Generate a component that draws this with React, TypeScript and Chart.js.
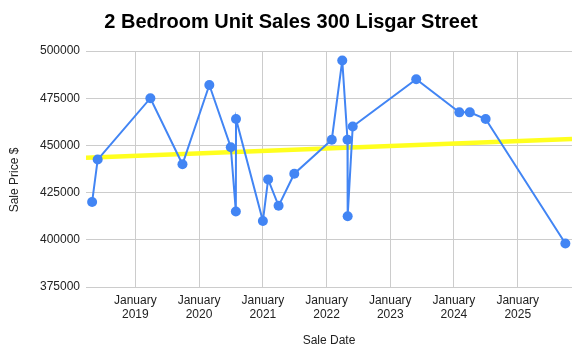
import React, { useEffect, useRef } from "react";
import { Chart, registerables } from "chart.js";

Chart.register(...registerables);

const saleDates: string[] = [
  "2018-04-28", "2018-05-30", "2019-03-28", "2019-09-28", "2020-02-29",
  "2020-07-01", "2020-07-30", "2020-07-31", "2021-01-01", "2021-01-31",
  "2021-04-01", "2021-06-30", "2022-01-31", "2022-04-01", "2022-05-01",
  "2022-05-02", "2022-05-31", "2023-05-30", "2024-02-01", "2024-04-01",
  "2024-07-01", "2025-10-01",
];
const salePrices: number[] = [
  420000, 442500, 475000, 440000, 482000,
  449000, 415000, 464000, 410000, 432000,
  418000, 435000, 453000, 495000, 453000,
  412500, 460000, 485000, 467500, 467500,
  464000, 398000,
];
const trendDates: string[] = ["2018-03-24", "2025-11-08"];
const trendPrices: number[] = [443500, 453400];
const tickYears: number[] = [2019, 2020, 2021, 2022, 2023, 2024, 2025];
const tickMonthLabel = "January";
const chartTitle = "2 Bedroom Unit Sales 300 Lisgar Street";
const xTitle = "Sale Date";
const yTitle = "Sale Price $";

const FONT = "Arial, 'Liberation Sans', sans-serif";

const ts = (d: string) => Date.parse(d + "T00:00:00Z");

const titlesPlugin = {
  id: "customTitles",
  afterDraw(chart: any) {
    const ctx = chart.ctx;
    ctx.save();
    ctx.fillStyle = "#000";
    ctx.font = `bold 20px ${FONT}`;
    ctx.textAlign = "center";
    ctx.textBaseline = "middle";
    ctx.fillText(chartTitle, 291, 22);
    ctx.fillStyle = "#222";
    ctx.font = `12px ${FONT}`;
    ctx.fillText(xTitle, 329, 341);
    ctx.translate(15, 180);
    ctx.rotate(-Math.PI / 2);
    ctx.fillText(yTitle, 0, 0);
    ctx.restore();
  },
};

export default function App() {
  const ref = useRef<HTMLCanvasElement | null>(null);
  useEffect(() => {
    if (!ref.current) return;
    const chart = new Chart(ref.current, {
      type: "line",
      data: {
        datasets: [
          {
            label: "Trend",
            data: trendDates.map((d, i) => ({ x: ts(d), y: trendPrices[i] })),
            borderColor: "rgb(255,255,30)",
            borderWidth: 4.5,
            pointRadius: 0,
            order: 2,
          },
          {
            label: "Sale Price",
            data: saleDates.map((d, i) => ({ x: ts(d), y: salePrices[i] })),
            borderColor: "#4285F4",
            backgroundColor: "#4285F4",
            borderWidth: 2,
            pointRadius: 5,
            pointBorderWidth: 0,
            tension: 0,
            order: 1,
          },
        ],
      },
      options: {
        responsive: false,
        animation: false,
        layout: { padding: { top: 51, right: 10, left: 0, bottom: 0 } },
        plugins: { legend: { display: false }, tooltip: { enabled: false }, title: { display: false } },
        scales: {
          x: {
            type: "linear",
            min: ts(trendDates[0]),
            max: ts(trendDates[1]),
            afterBuildTicks: (scale: any) => {
              scale.ticks = tickYears.map((y) => ({ value: Date.UTC(y, 0, 1) }));
            },
            afterFit: (scale: any) => {
              scale.height = 77;
            },
            ticks: {
              autoSkip: false,
              maxRotation: 0,
              padding: 7,
              color: "#222",
              font: { family: FONT, size: 12, lineHeight: 1.15 },
              callback: (v: any) => [tickMonthLabel, String(new Date(v).getUTCFullYear())],
            },
            grid: { color: "#cccccc", drawTicks: false, lineWidth: 1 },
            border: { display: false },
          },
          y: {
            min: 375000,
            max: 500000,
            afterFit: (scale: any) => {
              scale.width = 86;
            },
            ticks: {
              stepSize: 25000,
              padding: 6,
              color: "#222",
              font: { family: FONT, size: 12 },
              callback: (v: any) => String(v),
            },
            grid: { color: "#cccccc", drawTicks: false, lineWidth: 1 },
            border: { display: false },
          },
        },
      },
      plugins: [titlesPlugin],
    } as any);
    return () => chart.destroy();
  }, []);
  return (
    <div style={{ position: "fixed", left: 0, top: 0, width: 582, height: 364, background: "#fff" }}>
      <canvas ref={ref} width={582} height={364} />
    </div>
  );
}
